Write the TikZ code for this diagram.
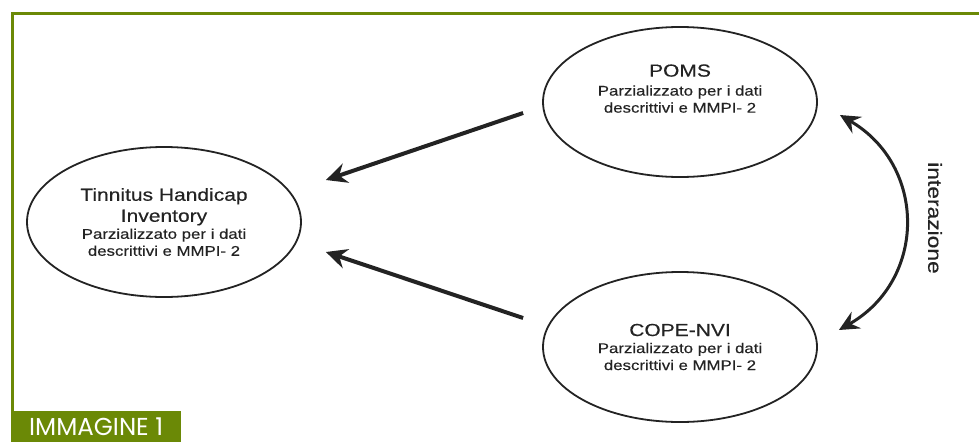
\documentclass[tikz,border=0pt]{standalone}
\usepackage{fontspec}
\setmainfont{Liberation Sans}[FakeStretch=1.2, FakeBold=0.4]
\newfontfamily\captionfont{Poppins}
\usetikzlibrary{shapes.geometric,arrows.meta}
\definecolor{framegreen}{RGB}{107,137,6}
\definecolor{ink}{RGB}{35,35,35}

\begin{document}
\begin{tikzpicture}[x=1pt, y=-1pt,
  scalebox/.style={ellipse, draw=ink, line width=1.8pt, minimum width=274pt,
    minimum height=150pt, inner sep=0pt, align=center, text=ink,
    font=\fontsize{14}{17}\selectfont},
  arr/.style={ink, line width=4pt, -{Stealth[length=21pt,width=20pt,inset=7pt]}},
  swap/.style={ink, line width=3pt,
    {Stealth[length=20pt,width=19pt,inset=7pt]}-{Stealth[length=20pt,width=19pt,inset=7pt]}}]
  \useasboundingbox (0,0) rectangle (979,442);
  % frame and caption
  \node[fill=framegreen, text=white, anchor=south west, minimum width=170pt,
    minimum height=31pt, inner sep=0pt, font=\captionfont\fontsize{24.5}{24}\selectfont]
    (caption) at (11,442) {IMMAGINE 1\hspace{5pt}};
  \coordinate (corner) at (12.5,13.5);
  \draw[framegreen, line width=3pt] (979,13.5) -- (corner) -- (corner |- caption.north);
  % scales
  \node[scalebox] (tinnitus) at (164,222)
    {{\fontsize{17.5}{20}\selectfont Tinnitus Handicap}\\[4pt]
     {\fontsize{17.5}{20}\selectfont Inventory}\\
     Parzializzato per i dati\\ descrittivi e MMPI- 2};
  \node[scalebox] (poms) at (680,102)
    {{\fontsize{17.5}{20}\selectfont POMS}\\[2pt]
     Parzializzato per i dati\\ descrittivi e MMPI- 2\\[10pt]};
  \node[scalebox] (cope) at (680,347)
    {{\fontsize{17.5}{20}\selectfont COPE-NVI}\\
     Parzializzato per i dati\\ descrittivi e MMPI- 2};
  % effects
  \draw[arr] ([shift={(-19,11)}]poms.west) -- ([shift={(24,-42)}]tinnitus.east);
  \draw[arr] ([shift={(-19,-29)}]cope.west) -- ([shift={(24,30)}]tinnitus.east);
  % interaction
  \draw[swap] ([shift={(22,13)}]poms.east) to[bend left=60, looseness=1.2]
    ([shift={(21,-17)}]cope.east);
  \node[rotate=-90, text=ink, font=\fontsize{19}{19}\selectfont] (inter) at (935,218) {interazione};
\end{tikzpicture}
\end{document}
